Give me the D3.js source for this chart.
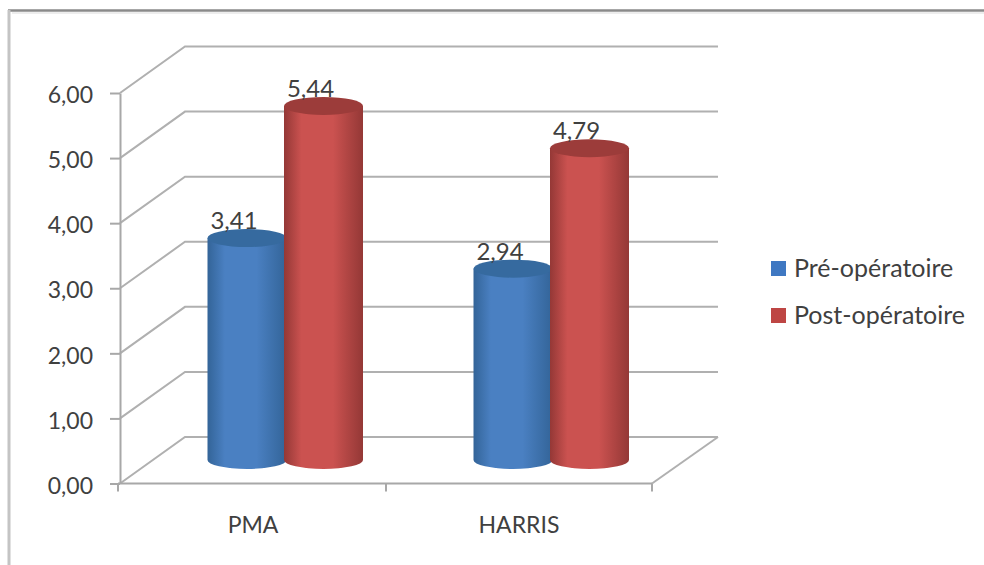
<!DOCTYPE html>
<html>
<head>
<meta charset="utf-8">
<script src="https://cdn.jsdelivr.net/npm/d3@7"></script>
<style>
  html, body { margin: 0; padding: 0; background: #fff; }
  svg { display: block; }
  text { font-family: Lato, "Open Sans", sans-serif; fill: #404040; }
</style>
</head>
<body>
<svg id="chart" width="984" height="565"></svg>
<script>
// Chart content
const categories = ["PMA", "HARRIS"];
const seriesNames = ["Pré-opératoire", "Post-opératoire"];
const preValues = [3.41, 2.94];
const postValues = [5.44, 4.79];
const tickValues = [0, 1, 2, 3, 4, 5, 6];

// Colour stops across each cylinder, edge to centre to edge
const seriesColors = {
  "Pré-opératoire": { mid: "#4a80c2", edge: "#336498", cap: "#366a9f", key: "#3f78c2" },
  "Post-opératoire": { mid: "#cb5250", edge: "#943836", cap: "#9c3c3a", key: "#be4644" }
};

const fmt = d3.format(".2f");
const frLabel = v => fmt(v).replace(".", ",");

const svg = d3.select("#chart");
const defs = svg.append("defs");

// Box geometry: front plane plus the offset to the back wall
const plot = { left: 120, right: 652, floor: 483.5, top: 93 };
const depth = { dx: 65, dy: -46.5 };
const capRy = 9;
const barBaseOffset = 23.5;

const y = d3.scaleLinear().domain([0, 6]).range([plot.floor, plot.top]);
const x = d3.scaleBand().domain(categories).range([plot.left, plot.right]);

// Outer card border
svg.append("line").attr("x1", 8).attr("x2", 984).attr("y1", 10.5).attr("y2", 10.5)
  .attr("stroke", "#8a8a8a").attr("stroke-width", 2.5);
svg.append("line").attr("x1", 9).attr("x2", 9).attr("y1", 10).attr("y2", 565)
  .attr("stroke", "#c4c4c4").attr("stroke-width", 3);
svg.append("line").attr("x1", 12).attr("x2", 984).attr("y1", 13).attr("y2", 13)
  .attr("stroke", "#ededed").attr("stroke-width", 2);

// Back wall gridlines with their slanted returns on the side wall
const grid = svg.append("g").attr("fill", "none").attr("stroke", "#b0b0b0").attr("stroke-width", 2);
grid.selectAll("path.grid").data(tickValues).join("path")
  .attr("class", "grid")
  .attr("d", d => {
    const p = d3.path();
    p.moveTo(plot.left, y(d));
    p.lineTo(plot.left + depth.dx, y(d) + depth.dy);
    p.lineTo(plot.right + depth.dx + 1, y(d) + depth.dy);
    return p.toString();
  });

// Right edge of the floor
const floorEdge = d3.path();
floorEdge.moveTo(plot.right, plot.floor);
floorEdge.lineTo(plot.right + depth.dx + 1, plot.floor + depth.dy);
grid.append("path").attr("d", floorEdge.toString());

// Value axis
const yAxis = svg.append("g")
  .attr("transform", `translate(${plot.left},0)`)
  .call(d3.axisLeft(y).tickValues(tickValues).tickFormat(frLabel).tickSize(10).tickSizeOuter(0).tickPadding(17));
yAxis.select(".domain").attr("stroke", "#a8a8a8").attr("stroke-width", 2);
yAxis.selectAll(".tick line").attr("stroke", "#a8a8a8").attr("stroke-width", 2);
yAxis.selectAll("text").attr("font-size", 23).attr("fill", "#404040").attr("dy", "0.42em");

// Category axis
const xAxis = svg.append("g")
  .attr("transform", `translate(0,${plot.floor})`);
xAxis.append("line")
  .attr("x1", plot.left - 2).attr("x2", plot.right)
  .attr("stroke", "#a8a8a8").attr("stroke-width", 2);
xAxis.selectAll("line.tick").data([...categories.map(c => x(c)), plot.right]).join("line")
  .attr("class", "tick")
  .attr("x1", d => d - (d === plot.left ? 2 : 0)).attr("x2", d => d - (d === plot.left ? 2 : 0))
  .attr("y1", 0).attr("y2", 8)
  .attr("stroke", "#a8a8a8").attr("stroke-width", 2);
xAxis.selectAll("text").data(categories).join("text")
  .attr("x", d => x(d) + x.bandwidth() / 2)
  .attr("y", 49.5)
  .attr("text-anchor", "middle")
  .attr("font-size", 23)
  .text(d => d);

// Horizontal shading for the cylinder bodies
seriesNames.forEach((name, i) => {
  const c = seriesColors[name];
  const g = defs.append("linearGradient").attr("id", `body${i}`)
    .attr("x1", 0).attr("x2", 1).attr("y1", 0).attr("y2", 0);
  [[0, c.edge], [0.22, c.mid], [0.62, c.mid], [1, c.edge]].forEach(([o, col]) =>
    g.append("stop").attr("offset", o).attr("stop-color", col));
});

// Bars stand on the middle of the floor; neighbours overlap by a few pixels
const barBase = plot.floor - barBaseOffset;
const barStep = 76.5;
const barWidth = 79;
const slot = d3.scaleBand().domain(seriesNames).range([0, barStep * 2]);
const valuesBySeries = [preValues, postValues];

const groups = svg.selectAll("g.cat").data(categories).join("g")
  .attr("class", "cat")
  .attr("transform", d => `translate(${x(d) + x.bandwidth() / 2 + depth.dx / 2 - barStep - 1.5},0)`);

groups.each(function (cat, ci) {
  const g = d3.select(this);
  seriesNames.forEach((name, si) => {
    const v = valuesBySeries[si][ci];
    const left = slot(name);
    const rx = barWidth / 2;
    const top = barBase - (plot.floor - y(v));
    const c = seriesColors[name];
    const body = `M${left},${top}V${barBase}A${rx},${capRy} 0 0 0 ${left + barWidth},${barBase}V${top}Z`;
    g.append("path").attr("d", body).attr("fill", `url(#body${si})`);
    g.append("ellipse")
      .attr("cx", left + rx).attr("cy", top)
      .attr("rx", rx).attr("ry", capRy)
      .attr("fill", c.cap);
    g.append("text")
      .attr("x", left + rx - 13)
      .attr("y", top - 9)
      .attr("text-anchor", "middle")
      .attr("font-size", 24)
      .text(frLabel(v));
  });
});

// Legend
const legend = svg.append("g").selectAll("g").data(seriesNames).join("g")
  .attr("transform", (d, i) => `translate(771,${261 + i * 47})`);
legend.append("rect").attr("width", 15).attr("height", 15)
  .attr("fill", d => seriesColors[d].key);
legend.append("text").attr("x", 23).attr("y", 15.5)
  .attr("font-size", 25)
  .text(d => d);
</script>
</body>
</html>
